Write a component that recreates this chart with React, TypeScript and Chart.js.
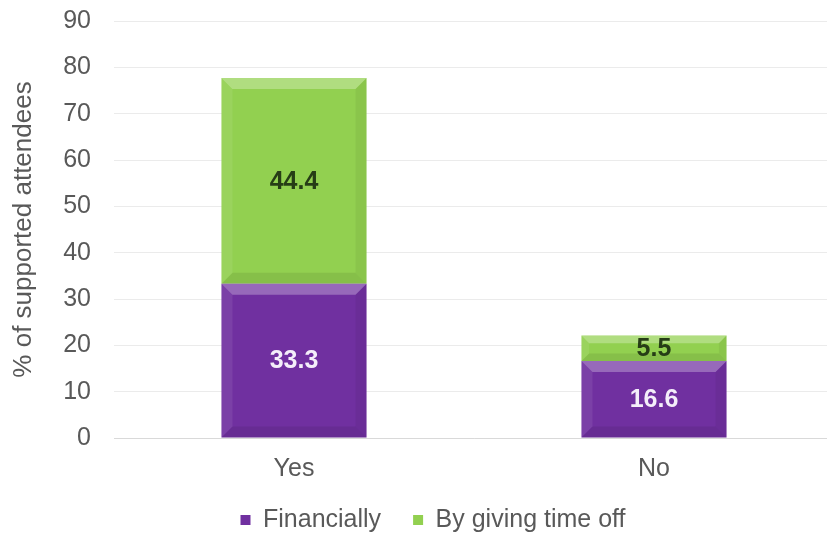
import React, { useEffect, useRef } from "react";
import { Chart, registerables } from "chart.js";

Chart.register(...registerables);

const categories = ["Yes", "No"];
const financially = [33.3, 16.6];
const timeOff = [44.4, 5.5];
const seriesNames = ["Financially", "By giving time off"];
const yTicks = [0, 10, 20, 30, 40, 50, 60, 70, 80, 90];

const FONT = "'Liberation Sans', Arial, sans-serif";

const legendShift = {
  id: "legendShift",
  afterLayout(chart: any) {
    const lg = chart.legend;
    if (!lg) return;
    const dy = -24.5;
    lg.top += dy;
    lg.bottom += dy;
  },
};

const bevelPlugin = {
  id: "bevelLabels",
  afterDatasetsDraw(chart: any) {
    const ctx = chart.ctx;
    chart.data.datasets.forEach((ds: any, di: number) => {
      const meta = chart.getDatasetMeta(di);
      if (meta.hidden) return;
      meta.data.forEach((el: any, i: number) => {
        const { x, y, base, width } = el.getProps(["x", "y", "base", "width"], true);
        const left = x - width / 2;
        const right = x + width / 2;
        const top = Math.min(y, base);
        const bottom = Math.max(y, base);
        const h = bottom - top;
        const b = Math.min(11, h * 0.3);
        ctx.save();
        const poly = (pts: number[][], fill: string) => {
          ctx.beginPath();
          ctx.moveTo(pts[0][0], pts[0][1]);
          for (let k = 1; k < pts.length; k++) ctx.lineTo(pts[k][0], pts[k][1]);
          ctx.closePath();
          ctx.fillStyle = fill;
          ctx.fill();
        };
        poly([[left, top], [right, top], [right - b, top + b], [left + b, top + b]], "rgba(255,255,255,0.28)");
        poly([[left, bottom], [right, bottom], [right - b, bottom - b], [left + b, bottom - b]], "rgba(0,0,0,0.08)");
        poly([[left, top], [left + b, top + b], [left + b, bottom - b], [left, bottom]], "rgba(255,255,255,0.08)");
        poly([[right, top], [right - b, top + b], [right - b, bottom - b], [right, bottom]], "rgba(0,0,0,0.05)");
        const v = ds.data[i];
        ctx.font = `bold 25px ${FONT}`;
        ctx.textAlign = "center";
        ctx.textBaseline = "middle";
        ctx.fillStyle = di === 0 ? "#f4eefa" : "#263d16";
        ctx.fillText(String(v), x, (top + bottom) / 2 + 1);
        ctx.restore();
      });
    });
  },
};

export default function App() {
  const ref = useRef<HTMLCanvasElement | null>(null);
  useEffect(() => {
    if (!ref.current) return;
    const chart = new Chart(ref.current, {
      type: "bar",
      data: {
        labels: categories,
        datasets: [
          {
            label: seriesNames[0],
            data: financially,
            backgroundColor: "#7030A0",
            borderWidth: 0,
            categoryPercentage: 1,
            barPercentage: 0.403,
          },
          {
            label: seriesNames[1],
            data: timeOff,
            backgroundColor: "#92D050",
            borderWidth: 0,
            categoryPercentage: 1,
            barPercentage: 0.403,
          },
        ],
      },
      options: {
        responsive: false,
        animation: false,
        devicePixelRatio: 1,
        layout: { padding: { left: 32, right: 6, top: 21, bottom: -33 } },
        plugins: {
          legend: {
            position: "bottom",
            labels: {
              boxWidth: 10,
              boxHeight: 10,
              padding: 32,
              color: "#595959",
              font: { family: FONT, size: 25 },
            },
          },
          tooltip: { enabled: false },
        },
        scales: {
          x: {
            stacked: true,
            grid: { display: false, drawTicks: false },
            border: { display: true, color: "#d9d9d9" },
            ticks: { color: "#595959", font: { family: FONT, size: 25 }, padding: 16 },
          },
          y: {
            stacked: true,
            min: 0,
            max: 90,
            afterFit: (scale: any) => {
              scale.width = 82;
              scale.paddingTop = 0;
              scale.paddingBottom = 0;
            },
            afterBuildTicks: (scale: any) => {
              scale.ticks = yTicks.map((v) => ({ value: v }));
            },
            grid: { color: "#ebebeb", drawTicks: false },
            border: { display: false },
            ticks: { color: "#595959", font: { family: FONT, size: 25 }, padding: 23 },
            title: {
              display: true,
              text: "% of supported attendees",
              color: "#595959",
              font: { family: FONT, size: 26 },
              padding: { top: -24, bottom: 0 },
            },
          },
        },
      },
      plugins: [bevelPlugin, legendShift],
    });
    return () => chart.destroy();
  }, []);
  return (
    <div style={{ position: "fixed", left: 0, top: 0, width: 827, height: 534, overflow: "hidden", background: "#fff" }}>
      <canvas ref={ref} width={840} height={534} style={{ display: "block" }} />
    </div>
  );
}
